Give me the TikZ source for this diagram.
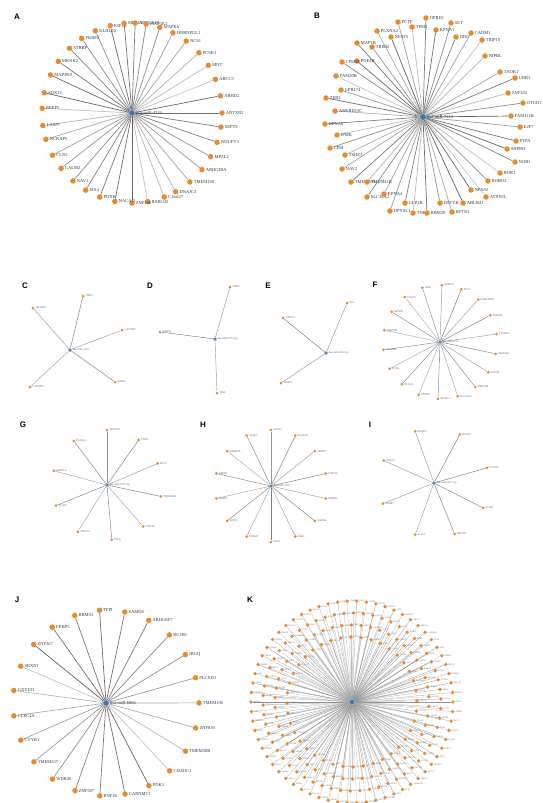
\documentclass[tikz,border=0pt]{standalone}
\usepackage{fontspec}
\setmainfont{Liberation Serif}
\setsansfont{Liberation Sans}
\usetikzlibrary{calc,backgrounds}
\pgfdeclarelayer{bottom}
\pgfsetlayers{bottom,background,main}
\definecolor{leafc}{RGB}{232,138,48}
\definecolor{hubc}{RGB}{62,118,168}
\definecolor{txtc}{RGB}{48,58,82}
\tikzset{
    hub/.style={circle,fill=hubc,draw=hubc!50!white,inner sep=0pt,minimum size=#1},
    hub/.default=6pt,
    leaf/.style={circle,fill=leafc,inner sep=0pt,minimum size=#1},
    leaf/.default=5.5pt,
    gene/.style={font=\fontsize{4.5}{5}\selectfont,text=txtc,inner sep=0.8pt},
    minigene/.style={font=\fontsize{2.8}{3}\selectfont,text=txtc!80,inner sep=0.6pt},
    tinygene/.style={font=\fontsize{2.2}{2.5}\selectfont,text=txtc!70,inner sep=0.4pt},
    link/.style={draw=black!#1,line width=0.7pt},
    thinlink/.style={draw=black!#1,line width=0.45pt},
    hairlink/.style={draw=black!#1,line width=0.25pt},
    panel/.style={font=\sffamily\bfseries\fontsize{8}{8}\selectfont}
}
\def\knames{{"ZNF521","SOX5","PTPRK","NR3C1","CREB5","BACH2","TCF4","FOXP1","KLF12","MEIS2","ZBTB20","NFIB","PRKCE","CAMK2D","SATB2","TSHZ2","ESRRG","PBX1","RORA","LRP1B","MBNL1","DLG2","CELF4","SIK3"}}

\begin{document}
\begin{tikzpicture}[x=1pt,y=-1pt]
\begin{pgfonlayer}{bottom}
\fill[white] (0,0) rectangle (543,803);
\end{pgfonlayer}
\useasboundingbox (0,0) rectangle (543,803);

% panel letters
\node[panel] (lA) at (17,17) {A};
\node[panel] (lB) at (317,16) {B};
\node[panel] (lC) at (25,286) {C};
\node[panel] (lD) at (150,286) {D};
\node[panel] (lE) at (268,286) {E};
\node[panel] (lF) at (375,285) {F};
\node[panel] (lG) at (23,425) {G};
\node[panel] (lH) at (203,425) {H};
\node[panel] (lI) at (370,425) {I};
\node[panel] (lJ) at (17,600) {J};
\node[panel] (lK) at (250,600) {K};

% A
\node[hub,label={[gene]right:hsa-miR-4319}] (hubA) at (132,113) {};
\foreach \ang/\g [count=\i] in {104/KIF1B,95/MEF2A,88/ARHGEF9,81/MAP3K2,72/MAPK6,63/HNRNPUL1,53/NCS1,42/PCSK1,32/MNT,22/ABCC5,11/ABHD2,0/ANTXR2,-9/SEPT9,-19/NDUFV3,-29/MPZL2,-39/ARHGDIA,-50/TMEM168,-61/DNAJC3,-69/C1orf27,-80/RAB11B,-90/ZNF148,-101/NACAD,-111/PDXK,-121/SIX4,-131/NAV1,-142/CALM2,-152/CLN3,-163/NCKAP5,-172/LASP1,177/REEP5,167/SOX12,155/MAP3K9,145/MKNK2,134/STRBP,124/FKBP4,114/KLHL24}
  \node[leaf,label={[gene]right:\g}] (a\i) at ($(hubA)+(\ang:90pt)$) {};
\begin{pgfonlayer}{background}
\foreach \i in {1,...,36} {
  \pgfmathtruncatemacro\sh{22+mod(\i*37,41)}
  \draw[link=\sh] (hubA) -- (a\i);
}
\end{pgfonlayer}

% B
\node[hub=6.5pt,label={[gene]right:hsa-miR-7113}] (hubB) at (423,117) {};
\foreach \x/\y/\g [count=\i] in {426/18/OPRD1,398/22/PCTP,412/27/TPM3,436/30/KPNA1,451/23/SET,377/31/PLXNA2,391/37/NFAT5,456/37/DDC,471/33/CADM1,482/40/TRIP10,357/43/MAP1B,372/47/TRIM2,485/56/NIPBL,357/61/PDE4B,342/62/CPEB4,500/72/TAOK1,336/76/FAM20B,515/78/UBR3,341/90/GPR174,508/93/ZNF302,326/98/ZEB2,523/103/OTUD1,335/111/ANKRD13C,511/116/FAM111B,325/124/KPNA6,520/127/E2F7,337/135/IPMK,516/141/PTPA,330/148/CPM,345/155/TSHZ3,507/149/SHPRH,515/162/NOB1,342/169/NAV2,500/173/ROR1,351/182/TMEM209,488/181/ROBO2,367/182/TMEM41B,471/190/NPAS2,367/197/SLC38A2,384/194/KPNA4,486/197/ATXN1L,405/203/GLP2R,390/211/DPYSL3,413/213/TNKS,427/213/RBM20,440/203/DSTYK,452/212/RFTN1,463/203/ABLIM1}
  \node[leaf,label={[gene]right:\g}] (b\i) at (\x,\y) {};
\begin{pgfonlayer}{background}
\foreach \i in {1,...,48} {
  \pgfmathtruncatemacro\sh{22+mod(\i*29,41)}
  \draw[link=\sh] (hubB) -- (b\i);
}
\end{pgfonlayer}

% C
\node[hub=3.5pt,label={[minigene]right:hsa-miR-3133}] (hubC) at (70,350) {};
\foreach \x/\y/\g [count=\i] in {33/308/MAGEE1,83/296/CNR1,122/330/CACNB2,115/382/SORT1,30/387/CYP26B1}
  \node[leaf=3pt,label={[minigene]right:\g}] (c\i) at (\x,\y) {};

% D
\node[hub=3.5pt,label={[minigene]right:hsa-miR-6774-3p}] (hubD) at (215,339) {};
\foreach \x/\y/\g [count=\i] in {230/287/NEBL,160/332/RAB9B,217/393/IRS2}
  \node[leaf=3pt,label={[minigene]right:\g}] (d\i) at (\x,\y) {};

% E
\node[hub=3.5pt,label={[minigene]right:hsa-miR-5010-3p}] (hubE) at (326,353) {};
\foreach \x/\y/\g [count=\i] in {347/303/NCL,283/318/NAP1L1,281/383/TIAM1}
  \node[leaf=3pt,label={[minigene]right:\g}] (e\i) at (\x,\y) {};

% F
\node[hub=3.5pt,label={[minigene]right:hsa-miR-3714}] (hubF) at (440,342) {};
\foreach \g [count=\i] in {SEPT10,PCLO,RAB11FIP2,ZNF644,SYNPO2,SEMA6A,KCNJ6,TNRC6B,SLC6A15,ELAVL4,PTPRD,DCLK1,SOX6,ARID4B,GRIN2B,NRXN1,CELF2,ZEB1} {
  \pgfmathsetmacro\ang{88-20*(\i-1)}
  \node[leaf=3pt,label={[minigene]right:\g}] (f\i) at ($(hubF)+(\ang:57pt)$) {};
}

% G
\node[hub=3.5pt,label={[minigene]right:hsa-miR-1277-5p}] (hubG) at (107,485) {};
\foreach \ang/\g [count=\i] in {90/MAP7D1,55/TGIF1,23/BCL9,-12/TMEM248,-49/CNOT6,-85/PIGA,-122/ZNF710,-158/TCAF1,165/ARID1A,127/PLAGL2}
  \node[leaf=3pt,label={[minigene]right:\g}] (g\i) at ($(hubG)+(\ang:55pt)$) {};

% H
\node[hub=3.5pt,label={[minigene]right:hsa-miR-3179}] (hubH) at (271,486) {};
\foreach \g [count=\i] in {SOX11,KLHL20,SMAD7,ZNF516,ABHD5,RAB5B,TAB3,NFIA,PDE4D,SESN3,ZFHX4,RREB1,PRDM16,CELF1} {
  \pgfmathsetmacro\ang{90-360/14*(\i-1)}
  \node[leaf=3pt,label={[minigene]right:\g}] (h\i) at ($(hubH)+(\ang:56pt)$) {};
}

% I
\node[hub=3.5pt,label={[minigene]right:hsa-miR-4677-3p}] (hubI) at (434,483) {};
\foreach \ang/\g [count=\i] in {110/ZFHX3,62/NFAT5,156/ASXL2,16/CYP2U1,-158/TSHZ1,-27/LCOR,-110/AGO1,-68/SRCIN1}
  \node[leaf=3pt,label={[minigene]right:\g}] (i\i) at ($(hubI)+(\ang:55pt)$) {};

% edges of C to I
\begin{pgfonlayer}{background}
\foreach \h/\p/\n in {hubC/c/5,hubD/d/3,hubE/e/3,hubF/f/18,hubG/g/10,hubH/h/14,hubI/i/8} {
  \foreach \i in {1,...,\n} {
    \pgfmathtruncatemacro\sh{28+mod(\i*37,25)}
    \draw[thinlink=\sh] (\h) -- (\p\i);
  }
}
\end{pgfonlayer}

% J
\node[hub,label={[gene]right:hsa-miR-6866}] (hubJ) at (106,703) {};
\foreach \g [count=\i] in {TFPI,SAMD8,ARHGEF7,RC3H1,IRGQ,PLCXD1,TMEM196,ZNF839,TMEM30B,CDADC1,PDK3,CARNMT1,RNF38,ZNF587,WDR26,TMEM237,CYYR1,CLEC4A,GXYLT1,SRXN1,ZNF367,FKBP5,RBMS3} {
  \pgfmathsetmacro\ang{94-360/23*(\i-1)}
  \node[leaf,label={[gene]right:\g}] (j\i) at ($(hubJ)+(\ang:93pt)$) {};
}
\begin{pgfonlayer}{background}
\foreach \i in {1,...,23} {
  \pgfmathtruncatemacro\sh{22+mod(\i*37,41)}
  \draw[link=\sh] (hubJ) -- (j\i);
}
\end{pgfonlayer}

% K
\node[hub=5pt,label={[tinygene]right:hsa-miR-1976}] (hubK) at (352,702) {};
\foreach \r/\n/\off [count=\ring] in {101/66/0,89/58/2,77/50/4,65/40/1} {
  \foreach \j in {1,...,\n} {
    \pgfmathsetmacro\ang{\off+360/\n*\j}
    \pgfmathtruncatemacro\idx{mod(\j*7+\ring*5,24)}
    \pgfmathparse{\knames[\idx]}\let\kg\pgfmathresult
    \node[leaf=3.8pt,label={[tinygene]right:\kg}] (k\ring-\j) at ($(hubK)+(\ang:\r pt)$) {};
  }
}
\begin{pgfonlayer}{background}
\foreach \n [count=\ring] in {66,58,50,40} {
  \foreach \j in {1,...,\n} {
    \pgfmathtruncatemacro\sh{25+mod(\j*37,25)}
    \draw[hairlink=\sh] (hubK) -- (k\ring-\j);
  }
}
\end{pgfonlayer}
\end{tikzpicture}
\end{document}
